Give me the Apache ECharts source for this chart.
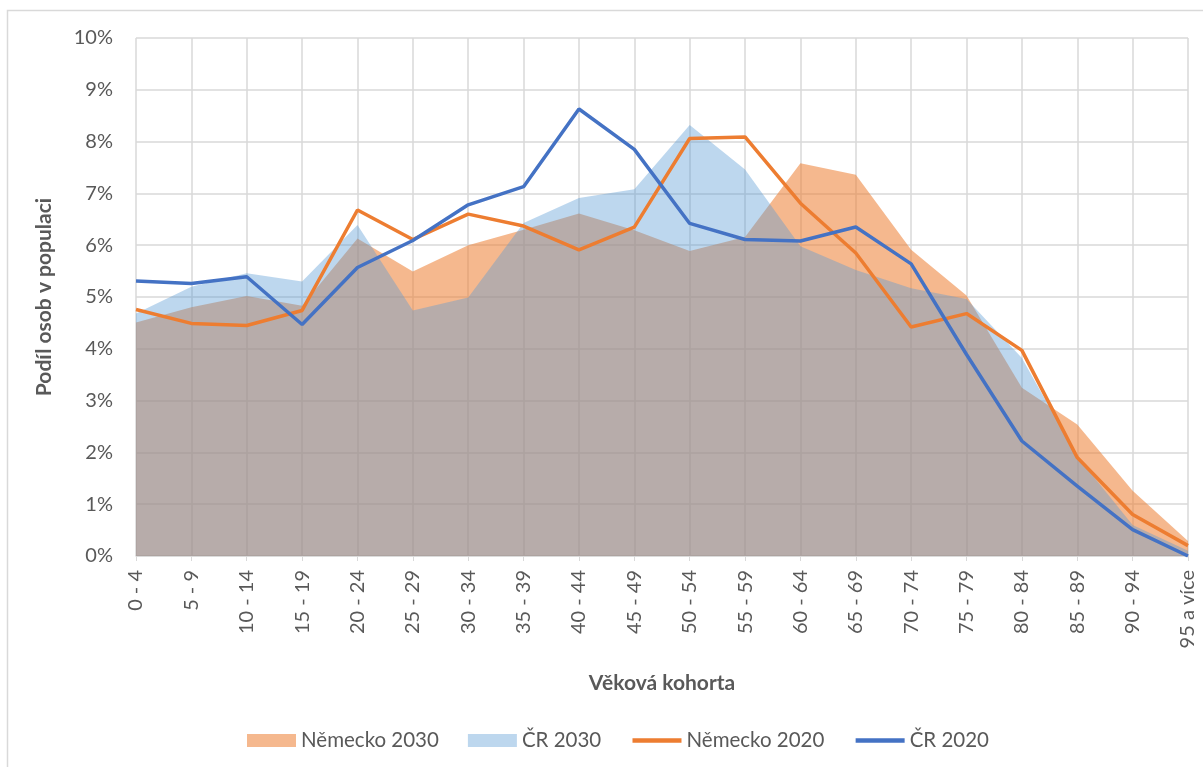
<!DOCTYPE html>
<html>
<head>
<meta charset="utf-8">
<script src="https://cdn.jsdelivr.net/npm/echarts@6/dist/echarts.min.js"></script>
<style>
  html, body { margin: 0; padding: 0; background: #fff; }
  #chart { width: 1203px; height: 767px; }
</style>
</head>
<body>
<div id="chart"></div>
<script>
// věkové kohorty na ose x
var kohorty = ['0 - 4', '5 - 9', '10 - 14', '15 - 19', '20 - 24', '25 - 29', '30 - 34', '35 - 39',
  '40 - 44', '45 - 49', '50 - 54', '55 - 59', '60 - 64', '65 - 69', '70 - 74', '75 - 79',
  '80 - 84', '85 - 89', '90 - 94', '95 a více'];

// podíl osob v populaci (%)
var nemecko2030 = [4.51, 4.80, 5.02, 4.83, 6.13, 5.49, 6.00, 6.30, 6.61, 6.29, 5.89, 6.16, 7.58, 7.36, 5.91, 5.03, 3.25, 2.54, 1.26, 0.29];
var cr2030 = [4.68, 5.20, 5.46, 5.30, 6.39, 4.74, 4.99, 6.43, 6.91, 7.08, 8.32, 7.46, 5.98, 5.52, 5.17, 4.96, 3.82, 1.92, 0.60, 0.10];
var nemecko2020 = [4.76, 4.49, 4.45, 4.74, 6.68, 6.11, 6.60, 6.37, 5.91, 6.35, 8.06, 8.09, 6.81, 5.85, 4.42, 4.68, 3.97, 1.90, 0.80, 0.20];
var cr2020 = [5.31, 5.26, 5.39, 4.47, 5.57, 6.09, 6.78, 7.13, 8.63, 7.85, 6.42, 6.11, 6.08, 6.35, 5.64, 3.89, 2.22, 1.35, 0.51, 0.00];

// osa y
var yMin = 0, yMax = 10, yKrok = 1;

var pismo = 'Lato, "Open Sans", sans-serif';
var seda = '#595959';
var mrizka = '#d9d9d9';

var chart = echarts.init(document.getElementById('chart'));
chart.setOption({
  animation: false,
  backgroundColor: '#fff',
  textStyle: { fontFamily: pismo },
  graphic: [{
    type: 'rect',
    shape: { x: 7.5, y: 10.5, width: 1300, height: 800 },
    style: { fill: 'none', stroke: mrizka, lineWidth: 1.5 },
    silent: true
  }],
  grid: { left: 136, right: 15, top: 38, bottom: 211 },
  legend: {
    top: 725,
    left: 242,
    itemWidth: 49,
    itemHeight: 13,
    itemGap: 29,
    textStyle: { color: seda, fontSize: 20.5, fontFamily: pismo },
    data: [
      { name: 'Německo 2030', icon: 'rect' },
      { name: 'ČR 2030', icon: 'rect' },
      { name: 'Německo 2020', itemStyle: { opacity: 0 }, lineStyle: { width: 4.5 } },
      { name: 'ČR 2020', itemStyle: { opacity: 0 }, lineStyle: { width: 4.5 } }
    ]
  },
  xAxis: {
    type: 'category',
    data: kohorty,
    boundaryGap: false,
    name: 'Věková kohorta',
    nameLocation: 'middle',
    nameGap: 117,
    nameTextStyle: { color: seda, fontSize: 21, fontWeight: 'bold', fontFamily: pismo },
    axisLine: { lineStyle: { color: mrizka, width: 1.5 } },
    axisTick: { show: true, alignWithLabel: true, length: 5, lineStyle: { color: mrizka } },
    axisLabel: { rotate: 90, color: seda, fontSize: 20, margin: 14, interval: 0 },
    splitLine: { show: true, lineStyle: { color: mrizka, width: 1.5 } }
  },
  yAxis: {
    type: 'value',
    min: yMin,
    max: yMax,
    interval: yKrok,
    name: 'Podíl osob v populaci',
    nameLocation: 'middle',
    nameGap: 81,
    nameTextStyle: { color: seda, fontSize: 21, fontWeight: 'bold', fontFamily: pismo },
    axisLine: { show: false },
    axisTick: { show: false },
    axisLabel: { color: seda, fontSize: 20, margin: 23, formatter: '{value}%' },
    splitLine: { lineStyle: { color: mrizka, width: 1.5 } }
  },
  series: [
    {
      name: 'Německo 2030',
      type: 'line',
      data: nemecko2030,
      symbol: 'none',
      color: 'rgba(237,125,49,0.55)',
      lineStyle: { width: 0 },
      areaStyle: { color: 'rgba(237,125,49,0.55)', opacity: 1 }
    },
    {
      name: 'ČR 2030',
      type: 'line',
      data: cr2030,
      symbol: 'none',
      color: 'rgba(91,155,213,0.4)',
      lineStyle: { width: 0 },
      areaStyle: { color: 'rgba(91,155,213,0.4)', opacity: 1 }
    },
    {
      name: 'Německo 2020',
      type: 'line',
      data: nemecko2020,
      symbol: 'none',
      color: '#ED7D31',
      lineStyle: { width: 3.5, color: '#ED7D31' }
    },
    {
      name: 'ČR 2020',
      type: 'line',
      data: cr2020,
      symbol: 'none',
      color: '#4472C4',
      lineStyle: { width: 3.5, color: '#4472C4' }
    }
  ]
});
</script>
</body>
</html>
